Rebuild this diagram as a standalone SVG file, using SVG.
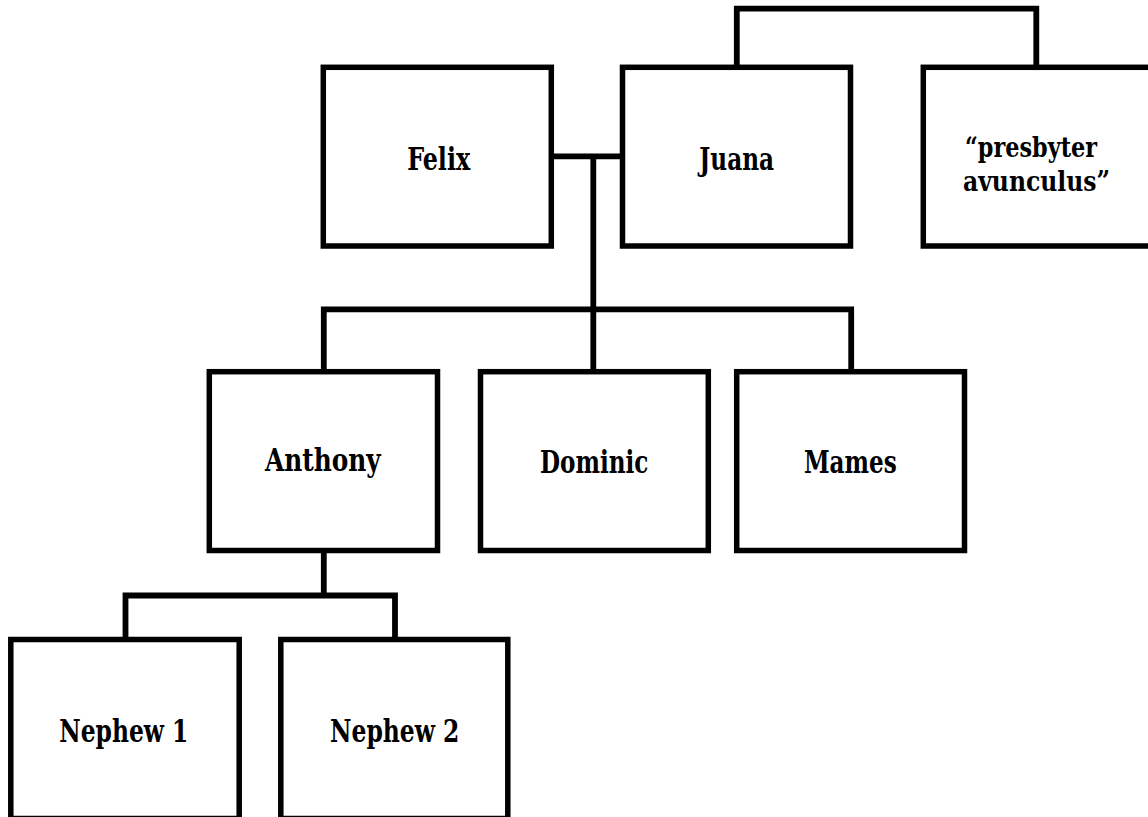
<svg xmlns="http://www.w3.org/2000/svg" width="1148" height="817" viewBox="0 0 1148 817">
<style>
.box{fill:#fff;stroke:#000;stroke-width:5.5}
.lbl{font-family:"DejaVu Serif","Liberation Serif",serif;font-weight:bold;font-stretch:condensed;font-size:32px;fill:#000;text-anchor:middle}
.small{font-size:28px}
.conn{fill:none;stroke:#000;stroke-width:5.8;stroke-linejoin:miter}
</style>
<rect x="0" y="0" width="1148" height="817" fill="#fff"/>
<g id="connectors">
<path class="conn" d="M736.8,67.3 V8.7 H1036.3 V67.3"/>
<path class="conn" d="M551.3,156.3 H622.5"/>
<path class="conn" d="M593.3,156.3 V371.7"/>
<path class="conn" d="M323.8,371.7 V309.3 H851.2 V371.7"/>
<path class="conn" d="M323.8,550.5 V595.5"/>
<path class="conn" d="M125.5,639.5 V595.5 H395 V639.5"/>
</g>
<g id="felix"><rect class="box" x="323.3" y="67.3" width="228" height="178.7"/><text class="lbl" x="438.7" y="170" textLength="63" lengthAdjust="spacingAndGlyphs">Felix</text></g>
<g id="juana"><rect class="box" x="622.5" y="67.3" width="228" height="178.7"/><text class="lbl" x="736.7" y="170" textLength="74.7" lengthAdjust="spacingAndGlyphs">Juana</text></g>
<g id="presbyter"><rect class="box" x="923.3" y="67.3" width="228" height="178.7"/><text class="lbl small" x="1031" y="157" textLength="132" lengthAdjust="spacingAndGlyphs">“presbyter</text><text class="lbl small" x="1036.5" y="191" textLength="147" lengthAdjust="spacingAndGlyphs">avunculus”</text></g>
<g id="anthony"><rect class="box" x="209.3" y="371.7" width="228.2" height="178.8"/><text class="lbl" x="322.8" y="471" textLength="115.7" lengthAdjust="spacingAndGlyphs">Anthony</text></g>
<g id="dominic"><rect class="box" x="480.5" y="371.7" width="227.8" height="178.8"/><text class="lbl" x="594.2" y="472.5" textLength="108.3" lengthAdjust="spacingAndGlyphs">Dominic</text></g>
<g id="mames"><rect class="box" x="736.7" y="371.7" width="227.8" height="178.8"/><text class="lbl" x="850.3" y="472.5" textLength="92.7" lengthAdjust="spacingAndGlyphs">Mames</text></g>
<g id="nephew1"><rect class="box" x="10.8" y="639.5" width="228.4" height="179"/><text class="lbl" x="123.8" y="742" textLength="129" lengthAdjust="spacingAndGlyphs">Nephew 1</text></g>
<g id="nephew2"><rect class="box" x="280.8" y="639.5" width="227" height="179"/><text class="lbl" x="394.7" y="742" textLength="129.3" lengthAdjust="spacingAndGlyphs">Nephew 2</text></g>
</svg>
